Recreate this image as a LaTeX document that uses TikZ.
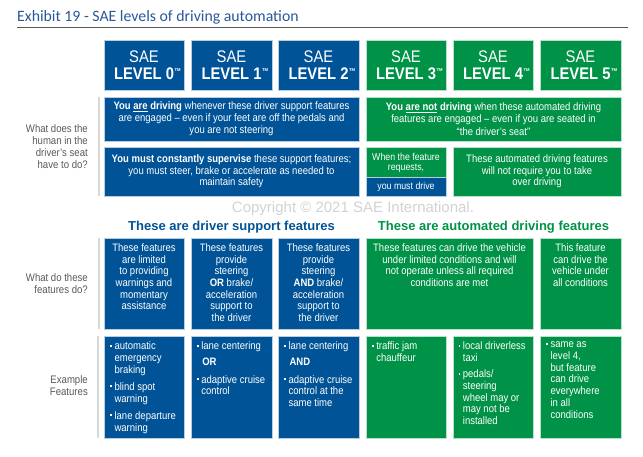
\documentclass[tikz,border=0pt]{standalone}
\usepackage{fontspec}
\setmainfont[FakeStretch=0.88]{Liberation Sans}
\newfontfamily\plainsans{Liberation Sans}
\newfontfamily\titlefont{Carlito}
\definecolor{saeblue}{RGB}{0,83,150}
\definecolor{saegreen}{RGB}{0,146,70}
\definecolor{titleblue}{RGB}{41,87,153}
\definecolor{labelgray}{RGB}{89,89,89}
\definecolor{sepgray}{RGB}{215,215,215}
\definecolor{copygray}{RGB}{210,210,210}
\newcommand{\cellbox}[6]{\node[#6, minimum width={#4-#2}, minimum height={#5-#3}] (#1) at (#2,#3) {};}
\newcommand{\bul}{\makebox[4.4pt][l]{\rule[3.3pt]{1.7pt}{1.7pt}}}
\newcommand{\ind}{\hspace*{4.4pt}}
\newcommand{\tmk}{\rlap{\hspace{0.6pt}\raisebox{8pt}{\plainsans\fontsize{4.2}{4.2}\selectfont\textbf{TM}}}}
\tikzset{
  bbox/.style={draw=white!72!saeblue, line width=0.9pt, fill=saeblue, anchor=north west, inner sep=0, outer sep=0},
  gbox/.style={bbox, draw=white!72!saegreen, fill=saegreen},
  txt/.style={text=white, align=center, inner sep=0, font=\fontsize{10.8}{11.7}\selectfont},
  toptxt/.style={txt, anchor=north, execute at begin node={\strut}},
  bultxt/.style={txt, align=left, anchor=north west, execute at begin node={\strut}},
  lbl/.style={text=labelgray, align=right, anchor=east, inner sep=0, font=\fontsize{10.9}{12}\selectfont},
  sepline/.style={draw=sepgray, line width=1.3pt},
  hdr/.style={txt, font=\fontsize{16.8}{16.5}\selectfont},
  sechead/.style={inner sep=0, font=\plainsans\bfseries\fontsize{13}{15}\selectfont},
}
\begin{document}
\begin{tikzpicture}[x=1pt, y=-1pt]
\useasboundingbox (0,0) rectangle (643,456);
% title
\node[anchor=base west, inner sep=0, text=titleblue, font=\titlefont\fontsize{15.8}{18}\selectfont] (title) at (17,21.3) {Exhibit 19 - SAE levels of driving automation};
\coordinate (rl) at (17,27.5);
\coordinate (rr) at (628,27.5);
\draw[draw=black!65, line width=0.9pt] (rl) -- (rr);
% headers
\cellbox{h0}{104}{40}{184}{90}{bbox}
\cellbox{h1}{191}{40}{272}{90}{bbox}
\cellbox{h2}{278}{40}{359}{90}{bbox}
\cellbox{h3}{366}{40}{446}{90}{gbox}
\cellbox{h4}{453}{40}{533}{90}{gbox}
\cellbox{h5}{540}{40}{621}{90}{gbox}
\node[hdr] (th0) at (h0.center) {SAE\\\textbf{LEVEL 0}\tmk};
\node[hdr] (th1) at (h1.center) {SAE\\\textbf{LEVEL 1}\tmk};
\node[hdr] (th2) at (h2.center) {SAE\\\textbf{LEVEL 2}\tmk};
\node[hdr] (th3) at (h3.center) {SAE\\\textbf{LEVEL 3}\tmk};
\node[hdr] (th4) at (h4.center) {SAE\\\textbf{LEVEL 4}\tmk};
\node[hdr] (th5) at (h5.center) {SAE\\\textbf{LEVEL 5}\tmk};
% row 1
\cellbox{r1b}{104}{97}{359}{141}{bbox}
\cellbox{r1g}{366}{97}{621}{141}{gbox}
\node[txt, font=\fontsize{10.8}{12.2}\selectfont] (tr1b) at (r1b.center) {\textbf{You \underline{are} driving} whenever these driver support features\\are engaged -- even if your feet are off the pedals and\\you are not steering};
\node[txt, font=\fontsize{10.8}{12.2}\selectfont] (tr1g) at (r1g.center) {\textbf{You \underline{are not} driving} when these automated driving\\features are engaged -- even if you are seated in\\“the driver’s seat”};
% row 2
\cellbox{r2b}{104}{147}{359}{196}{bbox}
\cellbox{r2s}{366}{147}{446}{196}{gbox}
\cellbox{r2d}{366}{177}{446}{196}{bbox}
\cellbox{r2g}{453}{147}{621}{196}{gbox}
\node[txt] (tr2b) at (r2b.center) {\textbf{You must constantly supervise} these support features;\\you must steer, brake or accelerate as needed to\\maintain safety};
\node[txt, font=\fontsize{10}{10.7}\selectfont] (tr2s) at (406,163) {When the feature\\requests,};
\node[txt, font=\fontsize{10}{10.7}\selectfont] (tr2d) at (r2d.center) {you must drive};
\node[txt] (tr2g) at (r2g.center) {These automated driving features\\will not require you to take\\over driving};
% copyright and section headings
\node[inner sep=0, text=copygray, font=\plainsans\fontsize{15}{17}\selectfont] (copy) at (353,209) {Copyright © 2021 SAE International.};
\node[sechead, text=saeblue] (sh1) at (231.5,227) {These are driver support features};
\node[sechead, text=saegreen] (sh2) at (493.5,227) {These are automated driving features};
% row 3
\cellbox{r3a}{104}{238}{184}{329}{bbox}
\cellbox{r3b}{191}{238}{272}{329}{bbox}
\cellbox{r3c}{278}{238}{359}{329}{bbox}
\cellbox{r3d}{366}{238}{533}{329}{gbox}
\cellbox{r3e}{540}{238}{621}{329}{gbox}
\node[toptxt] (tr3a) at (144,243.3) {These features\\are limited\\to providing\\warnings and\\momentary\\assistance};
\node[toptxt] (tr3b) at (231.5,243.3) {These features\\provide\\steering\\\textbf{OR} brake/\\acceleration\\support to\\the driver};
\node[toptxt] (tr3c) at (318.5,243.3) {These features\\provide\\steering\\\textbf{AND} brake/\\acceleration\\support to\\the driver};
\node[toptxt] (tr3d) at (449.5,243.3) {These features can drive the vehicle\\under limited conditions and will\\not operate unless all required\\conditions are met};
\node[toptxt] (tr3e) at (580.5,243.3) {This feature\\can drive the\\vehicle under\\all conditions};
% row 4
\cellbox{r4a}{104}{336}{184}{438}{bbox}
\cellbox{r4b}{191}{336}{272}{438}{bbox}
\cellbox{r4c}{278}{336}{359}{438}{bbox}
\cellbox{r4d}{366}{336}{446}{438}{gbox}
\cellbox{r4e}{453}{336}{533}{438}{gbox}
\cellbox{r4f}{540}{336}{621}{438}{gbox}
\node[bultxt] (tr4a) at (110,341.8) {\bul automatic\\\ind emergency\\\ind braking\\[5.5pt]\bul blind spot\\\ind warning\\[5.5pt]\bul lane departure\\\ind warning};
\node[bultxt] (tr4b) at (196.7,341.8) {\bul lane centering\\[4.3pt]\ind\hspace*{1pt}\textbf{OR}\\[5.6pt]\bul adaptive cruise\\\ind control};
\node[bultxt] (tr4c) at (284,341.8) {\bul lane centering\\[4.3pt]\ind\hspace*{1pt}\textbf{AND}\\[5.6pt]\bul adaptive cruise\\\ind control at the\\\ind same time};
\node[bultxt] (tr4d) at (371.7,341.8) {\bul traffic jam\\\ind chauffeur};
\node[bultxt] (tr4e) at (458.3,341.8) {\bul local driverless\\\ind taxi\\[4.6pt]\bul pedals/\\\ind steering\\\ind wheel may or\\\ind may not be\\\ind installed};
\node[bultxt] (tr4f) at (546,341.8) {\bul same as\\\ind level 4,\\\ind but feature\\\ind can drive\\\ind everywhere\\\ind in all\\\ind conditions};
% separators
\coordinate (s1a) at (99,97); \coordinate (s1b) at (99,196);
\coordinate (s2a) at (99,238); \coordinate (s2b) at (99,329);
\coordinate (s3a) at (98,336); \coordinate (s3b) at (98,438);
\draw[sepline] (s1a) -- (s1b);
\draw[sepline] (s2a) -- (s2b);
\draw[sepline] (s3a) -- (s3b);
% left labels
\node[lbl] (l1) at (88,146.5) {What does the\\human in the\\driver’s seat\\have to do?};
\node[lbl] (l2) at (88,284) {What do these\\features do?};
\node[lbl] (l3) at (88,386) {Example\\Features};
\end{tikzpicture}
\end{document}
